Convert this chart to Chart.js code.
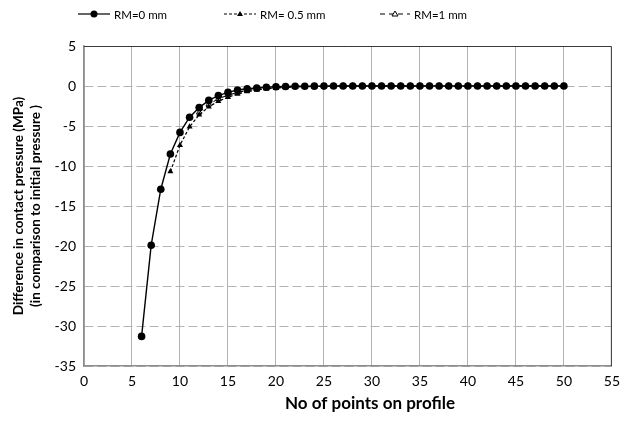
<!DOCTYPE html>
<html>
<head>
<meta charset="utf-8">
<script src="https://cdn.jsdelivr.net/npm/chart.js@4"></script>
<style>
  html, body { margin: 0; padding: 0; background: #fff; }
  #wrap { width: 627px; height: 427px; }
</style>
</head>
<body>
<div id="wrap"><canvas id="myChart" width="627" height="427"></canvas></div>
<script>
// number of points on profile
const xsRM0 = [6, 7, 8, 9, 10, 11, 12, 13, 14, 15, 16, 17, 18, 19, 20, 21, 22, 23, 24, 25, 26, 27, 28, 29, 30, 31, 32, 33, 34, 35, 36, 37, 38, 39, 40, 41, 42, 43, 44, 45, 46, 47, 48, 49, 50];
const ysRM0 = [-31.3, -19.9, -12.9, -8.5, -5.8, -3.9, -2.7, -1.8, -1.2, -0.8, -0.5, -0.35, -0.25, -0.15, -0.1, -0.06, -0.04, -0.03, -0.02, -0.01, 0, 0, 0, 0, 0, 0, 0, 0, 0, 0, 0, 0, 0, 0, 0, 0, 0, 0, 0, 0, 0, 0, 0, 0, 0];

const xsRM05 = [9, 10, 11, 12, 13, 14, 15, 16, 17, 18, 19, 20, 21, 22, 23, 24, 25, 26, 27, 28, 29, 30, 31, 32, 33, 34, 35, 36, 37, 38, 39, 40, 41, 42, 43, 44, 45, 46, 47, 48, 49, 50];
const ysRM05 = [-10.7, -7.4, -5.1, -3.6, -2.6, -1.9, -1.4, -1.0, -0.7, -0.5, -0.35, -0.25, -0.18, -0.12, -0.08, -0.05, -0.03, -0.02, -0.01, 0, 0, 0, 0, 0, 0, 0, 0, 0, 0, 0, 0, 0, 0, 0, 0, 0, 0, 0, 0, 0, 0, 0];

const xsRM1 = [12, 13, 14, 15, 16, 17, 18, 19, 20, 21, 22, 23, 24, 25, 26, 27, 28, 29, 30, 31, 32, 33, 34, 35, 36, 37, 38, 39, 40, 41, 42, 43, 44, 45, 46, 47, 48, 49, 50];
const ysRM1 = [-3.3, -2.3, -1.6, -1.15, -0.8, -0.55, -0.4, -0.28, -0.2, -0.13, -0.09, -0.06, -0.04, -0.02, -0.01, 0, 0, 0, 0, 0, 0, 0, 0, 0, 0, 0, 0, 0, 0, 0, 0, 0, 0, 0, 0, 0, 0, 0, 0];

const seriesLabels = ['RM=0 mm', 'RM= 0.5 mm', 'RM=1 mm'];
const xTicks = [0, 5, 10, 15, 20, 25, 30, 35, 40, 45, 50, 55];
const yTicks = [5, 0, -5, -10, -15, -20, -25, -30, -35];
const xTitle = 'No of points on profile';
const yTitle = ['Difference in contact pressure (MPa)', '(in comparison to initial pressure )'];

const FONT = 'Lato, "Liberation Sans", sans-serif';

function toPoints(xs, ys) {
    return xs.map((x, i) => ({ x: x, y: ys[i] }));
}

// legend drawn by hand: line sample with marker, then the label
const legendItems = [
    { x: 78, len: 32, dash: [], marker: 'circle' },
    { x: 224, len: 32, dash: [3, 2], marker: 'triangle' },
    { x: 380, len: 30, dash: [5, 4], marker: 'open' }
];

const lineLegend = {
    id: 'lineLegend',
    afterDraw(chart) {
        const ctx = chart.ctx;
        const y = 14;
        ctx.save();
        legendItems.forEach((item, i) => {
            ctx.strokeStyle = '#000';
            ctx.lineWidth = 1.2;
            ctx.setLineDash(item.dash);
            ctx.beginPath();
            ctx.moveTo(item.x, y);
            ctx.lineTo(item.x + item.len, y);
            ctx.stroke();
            ctx.setLineDash([]);
            const cx = item.x + item.len / 2;
            ctx.fillStyle = '#000';
            if (item.marker === 'circle') {
                ctx.beginPath();
                ctx.arc(cx, y, 3.5, 0, Math.PI * 2);
                ctx.fill();
            } else if (item.marker === 'triangle') {
                ctx.beginPath();
                ctx.moveTo(cx, y - 3);
                ctx.lineTo(cx + 3, y + 2);
                ctx.lineTo(cx - 3, y + 2);
                ctx.closePath();
                ctx.fill();
            } else {
                ctx.fillStyle = '#fff';
                ctx.lineWidth = 1;
                ctx.beginPath();
                ctx.moveTo(cx, y - 3);
                ctx.lineTo(cx + 3, y + 2);
                ctx.lineTo(cx - 3, y + 2);
                ctx.closePath();
                ctx.fill();
                ctx.stroke();
            }
            ctx.fillStyle = '#000';
            ctx.font = '11.5px ' + FONT;
            ctx.textBaseline = 'middle';
            ctx.fillText(seriesLabels[i], item.x + item.len + 4, y + 1);
        });
        ctx.restore();
    }
};

// plot frame on top/right, and the x title (sits off-centre, under 30)
const plotFrame = {
    id: 'plotFrame',
    afterDraw(chart) {
        const a = chart.chartArea;
        const ctx = chart.ctx;
        ctx.save();
        ctx.strokeStyle = '#3a3a3a';
        ctx.lineWidth = 1;
        ctx.beginPath();
        ctx.moveTo(a.left, a.top + 0.5);
        ctx.lineTo(a.right - 0.5, a.top + 0.5);
        ctx.lineTo(a.right - 0.5, a.bottom);
        ctx.stroke();
        ctx.fillStyle = '#000';
        ctx.font = 'bold 17px ' + FONT;
        ctx.textAlign = 'center';
        ctx.textBaseline = 'middle';
        ctx.fillText(xTitle, chart.scales.x.getPixelForValue(29.8), 404);
        ctx.restore();
    }
};

new Chart(document.getElementById('myChart').getContext('2d'), {
    type: 'line',
    data: {
        datasets: [
            {
                label: seriesLabels[0],
                data: toPoints(xsRM0, ysRM0),
                borderColor: '#000',
                backgroundColor: '#000',
                borderWidth: 1.4,
                pointStyle: 'circle',
                pointRadius: 3.8,
                pointBackgroundColor: '#000',
                pointBorderWidth: 0
            },
            {
                label: seriesLabels[1],
                data: toPoints(xsRM05, ysRM05),
                borderColor: '#000',
                backgroundColor: '#000',
                borderWidth: 1.2,
                borderDash: [3, 2],
                pointStyle: 'triangle',
                pointRadius: 3.5,
                pointBackgroundColor: '#000',
                pointBorderWidth: 0
            },
            {
                label: seriesLabels[2],
                data: toPoints(xsRM1, ysRM1),
                borderColor: '#000',
                backgroundColor: '#fff',
                borderWidth: 1.1,
                borderDash: [5, 4],
                pointStyle: 'triangle',
                pointRadius: 3.2,
                pointBackgroundColor: '#fff',
                pointBorderColor: '#000',
                pointBorderWidth: 1
            }
        ]
    },
    options: {
        responsive: false,
        animation: false,
        layout: { padding: { top: 46, right: 10, left: 11, bottom: 13 } },
        plugins: {
            tooltip: { enabled: false },
            legend: { display: false }
        },
        scales: {
            x: {
                type: 'linear',
                min: 0,
                max: 55,
                afterBuildTicks: (scale) => { scale.ticks = xTicks.map(v => ({ value: v })); },
                grid: { color: '#b3b3b3', lineWidth: 1, drawTicks: false },
                border: { color: '#8c8c8c', width: 1.5 },
                ticks: { color: '#000', padding: 7, maxRotation: 0, font: { family: FONT, size: 14 } },
                title: { display: false },
                afterFit: (scale) => { scale.height = 48; }
            },
            y: {
                type: 'linear',
                min: -35,
                max: 5,
                afterBuildTicks: (scale) => { scale.ticks = yTicks.map(v => ({ value: v })); },
                grid: { color: '#b3b3b3', lineWidth: 1, drawTicks: false },
                border: { color: '#8c8c8c', width: 1.5, dash: [9, 4] },
                ticks: { color: '#000', padding: 8, font: { family: FONT, size: 14 } },
                title: {
                    display: true,
                    text: yTitle,
                    color: '#000',
                    padding: { top: 0, bottom: 4 },
                    font: { family: FONT, size: 13.5, weight: 'bold', lineHeight: 1.2 }
                },
                afterFit: (scale) => { scale.width = 73; }
            }
        }
    },
    plugins: [plotFrame, lineLegend]
});
</script>
</body>
</html>
